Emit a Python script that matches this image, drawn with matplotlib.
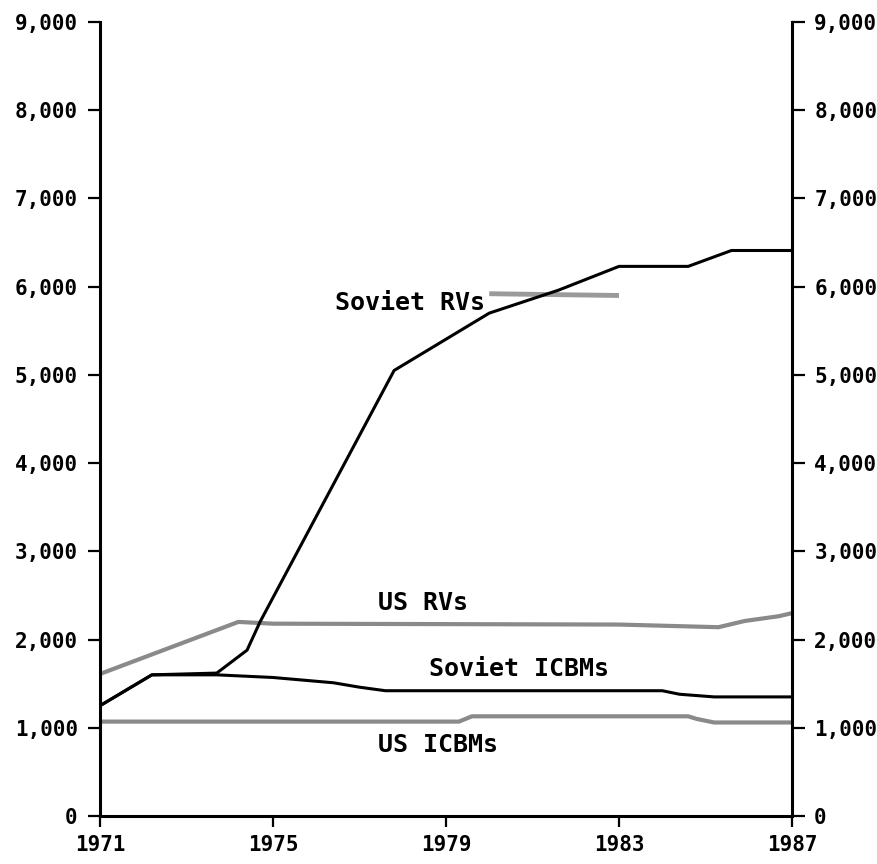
import matplotlib
matplotlib.use("Agg")
import matplotlib.pyplot as plt

# 字体：位图风格的等宽字体
plt.rcParams["font.family"] = ["DejaVu Sans Mono"]
plt.rcParams["font.weight"] = "bold"

# ---- 数据 ----
soviet_rv_years = [1971, 1972.2, 1973.7, 1974.4, 1974.7, 1977.8, 1980.0, 1981.6, 1983.0, 1984.6, 1985.6, 1987]
soviet_rv_vals = [1250, 1600, 1620, 1880, 2200, 5050, 5700, 5960, 6230, 6230, 6410, 6410]

soviet_icbm_years = [1971, 1972.2, 1973.7, 1975.0, 1976.4, 1977.0, 1977.6, 1984.0, 1984.4, 1985.2, 1987]
soviet_icbm_vals = [1250, 1600, 1600, 1570, 1510, 1460, 1420, 1420, 1380, 1350, 1350]

us_rv_years = [1971, 1974.2, 1975, 1983, 1985.3, 1985.9, 1986.7, 1987]
us_rv_vals = [1610, 2200, 2180, 2170, 2140, 2210, 2265, 2300]

us_icbm_years = [1971, 1979.3, 1979.6, 1984.6, 1984.8, 1985.2, 1987]
us_icbm_vals = [1070, 1070, 1130, 1130, 1100, 1060, 1060]

# "Soviet RVs" 标签旁的灰色引线
leader_years = [1980.0, 1983.0]
leader_vals = [5920, 5900]

x_ticks = [1971, 1975, 1979, 1983, 1987]
y_ticks = [0, 1000, 2000, 3000, 4000, 5000, 6000, 7000, 8000, 9000]
y_labels = ["0", "1,000", "2,000", "3,000", "4,000", "5,000", "6,000", "7,000", "8,000", "9,000"]

labels = [
    ("Soviet RVs", 1978.16, 5820),
    ("US RVs", 1978.47, 2420),
    ("Soviet ICBMs", 1980.69, 1665),
    ("US ICBMs", 1978.82, 800),
]

BLACK = "#000000"
GREY = "#8a8a8a"

fig = plt.figure(figsize=(8.78, 8.64), dpi=100)
ax = fig.add_axes([100 / 878, 48 / 864, 692 / 878, 794 / 864])

ax.plot(leader_years, leader_vals, color="#9a9a9a", linewidth=3.5, solid_capstyle="butt")
ax.plot(us_rv_years, us_rv_vals, color=GREY, linewidth=3)
ax.plot(us_icbm_years, us_icbm_vals, color=GREY, linewidth=3)
ax.plot(soviet_icbm_years, soviet_icbm_vals, color=BLACK, linewidth=2.2)
ax.plot(soviet_rv_years, soviet_rv_vals, color=BLACK, linewidth=2.2)

for text, x, y in labels:
    ax.text(x, y, text, ha="center", va="center", fontsize=18, fontweight="bold")

ax.set_xlim(1971, 1987)
ax.set_ylim(0, 9000)
ax.set_xticks(x_ticks)
ax.set_xticklabels([str(y) for y in x_ticks])
ax.set_yticks(y_ticks)
ax.set_yticklabels(y_labels)

# 右侧坐标轴，刻度一样
ax.spines["top"].set_visible(False)
for side in ["left", "right", "bottom"]:
    ax.spines[side].set_linewidth(2.2)

ax.tick_params(axis="y", which="both", left=True, right=True, labelleft=True, labelright=True,
               direction="out", length=9, width=1.6, pad=7, labelsize=15)
ax.tick_params(axis="x", direction="out", length=8, width=1.6, pad=6, labelsize=15)

fig.savefig("out.png", dpi=100, facecolor="white")
